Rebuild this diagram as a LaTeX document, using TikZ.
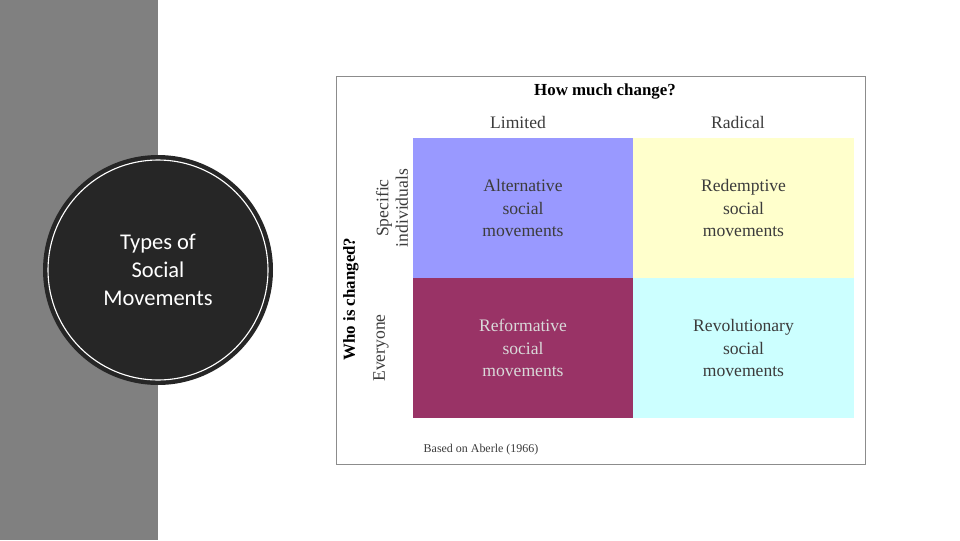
\documentclass[tikz,border=0pt]{standalone}
\usepackage{fontspec}
\setmainfont{Liberation Serif}
\newfontfamily\titlefont{Carlito}
\definecolor{barg}{RGB}{128,128,128}
\definecolor{disc}{RGB}{38,38,38}
\definecolor{altc}{RGB}{153,153,255}
\definecolor{redc}{RGB}{255,255,204}
\definecolor{refc}{RGB}{153,51,102}
\definecolor{revc}{RGB}{204,255,255}
\definecolor{txtc}{RGB}{60,60,60}
\begin{document}
\begin{tikzpicture}[x=0.025cm,y=-0.025cm]
  \tikzstyle{cell} = [rectangle, minimum width=5.5cm, minimum height=3.5cm, inner sep=0pt, align=center, text=txtc, font=\fontsize{12.5}{16}\selectfont]
  \tikzstyle{head} = [text=txtc, font=\fontsize{12.5}{14}\selectfont]
  \tikzstyle{bold} = [text=black, font=\bfseries\fontsize{12}{14}\selectfont]

  \useasboundingbox (0,0) rectangle (960,540);
  \fill[barg] (0,0) rectangle (158,540);

  % framed figure
  \draw[black!45, fill=white] (336,76) rectangle (865,464);
  \node (alt) [cell, fill=altc] at (523,208) {Alternative\\social\\movements};
  \node (red) [cell, fill=redc] at (743.5,208) {Redemptive\\social\\movements};
  \node (ref) [cell, fill=refc, text=black!15] at (523,348) {Reformative\\social\\movements};
  \node (rev) [cell, fill=revc] at (743.5,348) {Revolutionary\\social\\movements};
  \node (how) [bold] at (605,92) {How much change?};
  \node (lim) [head] at (518,122) {Limited};
  \node (rad) [head] at (738,122) {Radical};
  \node (who) [bold, rotate=90] at (351,299) {Who is changed?};
  \node (spec) [head, rotate=90, align=center, font=\fontsize{12.5}{14}\selectfont] at (392,208) {Specific\\individuals};
  \node (every) [head, rotate=90] at (381,348) {Everyone};
  \node (src) [font=\fontsize{8.5}{10}\selectfont, text=txtc] at (481,450) {Based on Aberle (1966)};

  % title disc
  \fill[disc] (158,270) circle (115);
  \draw[white, line width=0.8pt] (158,270) circle (110);
  \node (title) [text=white, align=center, font=\titlefont\fontsize{16}{20}\selectfont] at (158,270) {Types of\\Social\\Movements};
\end{tikzpicture}
\end{document}
